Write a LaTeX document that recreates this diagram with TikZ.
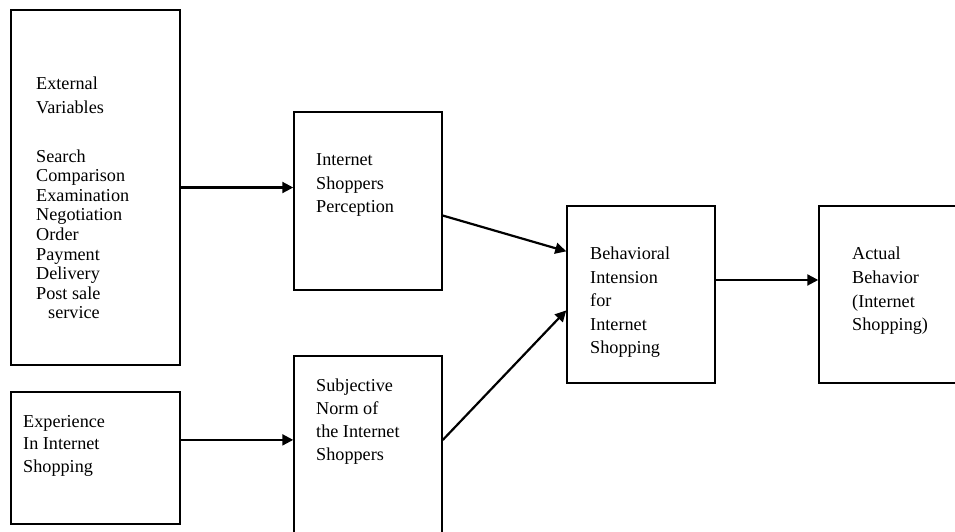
\documentclass[tikz,border=0pt]{standalone}
\usepackage{fontspec}
\setmainfont{Liberation Serif}
\usetikzlibrary{arrows.meta,positioning}

\begin{document}
\begin{tikzpicture}[x=1pt,y=-1pt,
        box/.style={draw, line width=1.5pt, inner sep=0pt},
        txt/.style={anchor=north west, inner sep=0pt, align=left,
            font=\fontsize{18.2}{23.5}\selectfont},
        arr/.style={line width=2.2pt, -{Triangle[length=11pt,width=11pt]}}]
        \useasboundingbox (0,0) rectangle (955,531);
        \clip (0,0) rectangle (955,531);
        % Boxes
        \node[box, minimum width=169pt, minimum height=355pt] (ev) at (95.5,187.5) {};
        \node[box, minimum width=169pt, minimum height=132pt] (ex) at (95.5,458) {};
        \node[box, minimum width=148pt, minimum height=178pt] (isp) at (368,201) {};
        \node[box, minimum width=148pt, minimum height=189pt] (sn) at (368,450.5) {};
        \node[box, minimum width=148pt, minimum height=177pt] (bi) at (641,294.5) {};
        \node[box, minimum width=166pt, minimum height=177pt] (ab) at (902,294.5) {};
        % Labels inside boxes
        \node[txt, font=\fontsize{18.2}{19.6}\selectfont] (evt) at (36,76.8)
            {External\\[4.4pt]Variables\\[28.9pt]Search\\Comparison\\Examination\\Negotiation\\Order\\Payment\\Delivery\\Post sale\\\hspace*{12pt}service};
        \node[txt, font=\fontsize{18.2}{22.5}\selectfont] (ext) at (23,414.8) {Experience\\In Internet\\Shopping};
        \node[txt] (ispt) at (316,153.8) {Internet\\Shoppers\\Perception};
        \node[txt, font=\fontsize{18.2}{23}\selectfont] (snt) at (316,378.8) {Subjective\\Norm of\\the Internet\\Shoppers};
        \node[txt] (bit) at (590,246.8) {Behavioral\\Intension\\for\\Internet\\Shopping};
        \node[txt, font=\fontsize{18.2}{23.7}\selectfont] (abt) at (852,246.8) {Actual\\Behavior\\(Internet\\Shopping)};
        % Arrows
        \draw[arr] (ev.east) -- (ev.east -| isp.west);
        \draw[arr] (ex.12) -- (ex.12 -| sn.west);
        \draw[arr] (isp.-11) -- (bi.150);
        \draw[arr] (sn.8) -- (bi.192);
        \draw[arr] (bi.11) -- (bi.11 -| ab.west);
    \end{tikzpicture}
\end{document}
